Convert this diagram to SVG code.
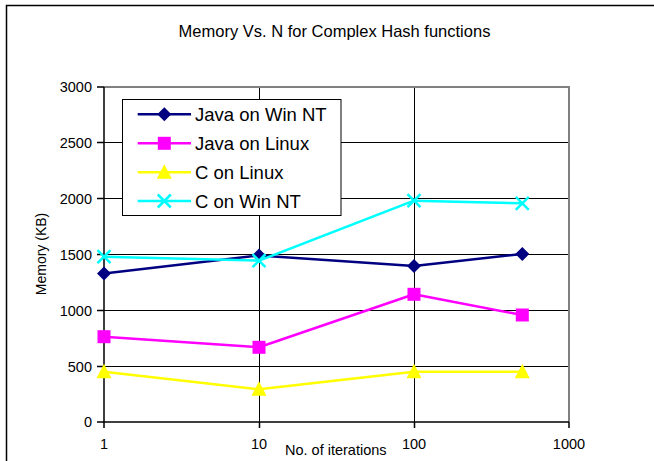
<svg xmlns="http://www.w3.org/2000/svg" width="654" height="461" viewBox="0 0 654 461">
<style>
text{font-family:"Liberation Sans",Arial,sans-serif;fill:#000}
.tick{font-size:14.5px}
.grid{stroke:#000;stroke-width:1;fill:none}
.axis{stroke:#000;stroke-width:1.5;fill:none}
.series{fill:none;stroke-width:2.5;stroke-linejoin:round}
.leg{font-size:18.5px}
</style>
<defs>
<path id="dia" d="M0,-7 L7,0 L0,7 L-7,0 Z" fill="#000080"/>
<rect id="sq" x="-6.5" y="-6.5" width="13" height="13" fill="#FF00FF"/>
<path id="tri" d="M0,-8 L7.5,6.5 L-7.5,6.5 Z" fill="#FFFF00"/>
<path id="xm" d="M-6.5,-6.5 L6.5,6.5 M-6.5,6.5 L6.5,-6.5" stroke="#00FFFF" stroke-width="2.5" fill="none"/>
</defs>
<rect x="0" y="0" width="654" height="461" fill="#fff"/>
<rect x="6.5" y="5.5" width="660" height="470" fill="none" stroke="#000" stroke-width="1.5"/>
<text x="334.5" y="36.5" font-size="16.5" text-anchor="middle">Memory Vs. N for Complex Hash functions</text>
<g id="gridlines">
<path class="grid" d="M104,142.5H569 M104,198.5H569 M104,254.5H569 M104,310.5H569 M104,366.5H569 M259.5,87V422 M414.5,87V422"/>
</g>
<g id="frame">
<path d="M104,87H569V422" stroke="#808080" stroke-width="2" fill="none"/>
<path class="axis" d="M104,87V422H569"/>
<path class="axis" d="M97,87H104 M97,142.5H104 M97,198.5H104 M97,254.5H104 M97,310.5H104 M97,366.5H104 M97,422H104 M104,422V428 M259.5,422V428 M414.5,422V428 M569,422V428"/>
</g>
<g id="ylabels" class="tick" text-anchor="end">
<text x="92" y="92">3000</text>
<text x="92" y="148">2500</text>
<text x="92" y="204">2000</text>
<text x="92" y="259.5">1500</text>
<text x="92" y="315.5">1000</text>
<text x="92" y="371.5">500</text>
<text x="92" y="427">0</text>
</g>
<g id="xlabels" class="tick" text-anchor="middle">
<text x="104" y="449">1</text>
<text x="259" y="449">10</text>
<text x="414" y="449">100</text>
<text x="569" y="449">1000</text>
</g>
<text x="285" y="455" font-size="14.5">No. of iterations</text>
<text transform="translate(46,254) rotate(-90)" font-size="14" text-anchor="middle">Memory (KB)</text>
<g id="java-win">
<polyline class="series" stroke="#000080" points="104,273.5 259,255.5 414,266 522.3,254"/>
<use href="#dia" x="104" y="273.5"/><use href="#dia" x="259" y="255.5"/><use href="#dia" x="414" y="266"/><use href="#dia" x="522.3" y="254"/>
</g>
<g id="java-linux">
<polyline class="series" stroke="#FF00FF" points="104,336.7 259,347.3 414,294.3 522.3,315"/>
<use href="#sq" x="104" y="336.7"/><use href="#sq" x="259" y="347.3"/><use href="#sq" x="414" y="294.3"/><use href="#sq" x="522.3" y="315"/>
</g>
<g id="c-linux">
<polyline class="series" stroke="#FFFF00" points="104,371.7 259,389.3 414,371.7 522.3,371.7"/>
<use href="#tri" x="104" y="371.7"/><use href="#tri" x="259" y="389.3"/><use href="#tri" x="414" y="371.7"/><use href="#tri" x="522.3" y="371.7"/>
</g>
<g id="c-win">
<polyline class="series" stroke="#00FFFF" points="104,256.7 259,260.7 414,200.7 522.3,203.3"/>
<use href="#xm" x="104" y="256.7"/><use href="#xm" x="259" y="260.7"/><use href="#xm" x="414" y="200.7"/><use href="#xm" x="522.3" y="203.3"/>
</g>
<g id="legend">
<rect x="122.5" y="99.5" width="218.5" height="116" fill="#fff" stroke="#000" stroke-width="1"/>
<path d="M137.7,114.3H191" stroke="#000080" stroke-width="2.5"/><use href="#dia" x="164.3" y="114.3"/>
<text class="leg" x="195" y="121">Java on Win NT</text>
<path d="M137.7,143.3H191" stroke="#FF00FF" stroke-width="2.5"/><use href="#sq" x="164.3" y="143.3"/>
<text class="leg" x="195" y="150">Java on Linux</text>
<path d="M137.7,172.3H191" stroke="#FFFF00" stroke-width="2.5"/><use href="#tri" x="164.3" y="172.3"/>
<text class="leg" x="195" y="179">C on Linux</text>
<path d="M137.7,201H191" stroke="#00FFFF" stroke-width="2.5"/><use href="#xm" x="164.3" y="201"/>
<text class="leg" x="195" y="207.7">C on Win NT</text>
</g>
</svg>
